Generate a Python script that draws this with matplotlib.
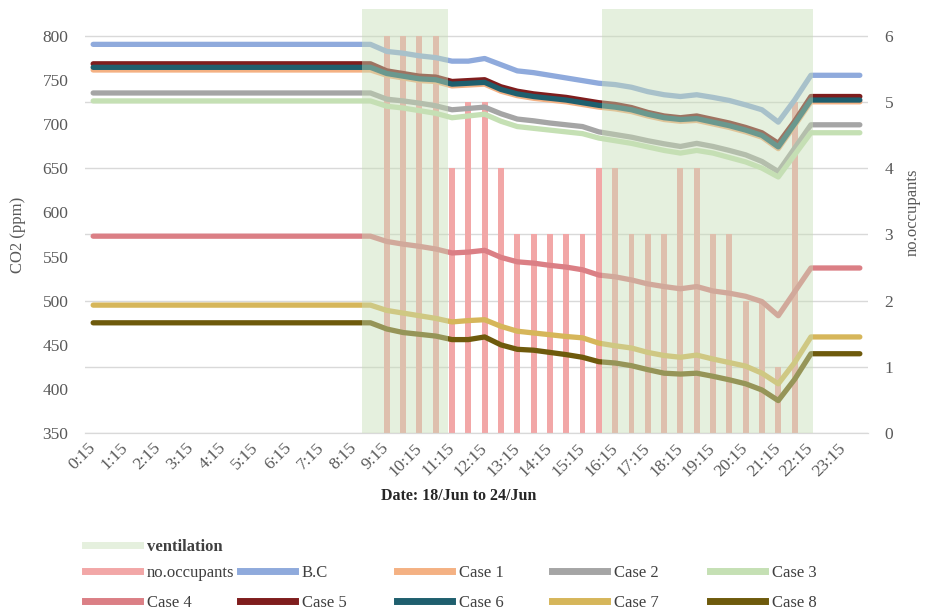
import matplotlib.pyplot as plt
from matplotlib.lines import Line2D
import numpy as np

plt.rcParams['font.family'] = ['Liberation Serif', 'DejaVu Serif']

# half-hour slots 0:15, 0:45, ... 23:45 ; labels every hour
hour_labels = ["0:15", "1:15", "2:15", "3:15", "4:15", "5:15", "6:15", "7:15",
               "8:15", "9:15", "10:15", "11:15", "12:15", "13:15", "14:15", "15:15",
               "16:15", "17:15", "18:15", "19:15", "20:15", "21:15", "22:15", "23:15"]

occupants = [0, 0, 0, 0, 0, 0, 0, 0, 0, 0, 0, 0, 0, 0, 0, 0, 0, 0,
             6, 6, 6, 6, 4, 5, 5, 4, 3, 3, 3, 3, 3, 4, 4, 3, 3, 3, 4, 4, 3, 3, 2, 2, 1, 5,
             0, 0, 0, 0]

bc = [790, 790, 790, 790, 790, 790, 790, 790, 790, 790, 790, 790, 790, 790, 790, 790, 790, 790,
      782, 780, 777, 775, 771, 771, 774, 767, 760, 758, 755, 752, 749, 746, 744.5, 741.5,
      736.5, 733, 731, 733, 730, 726.5, 721.5, 716, 702, 727, 755, 755, 755, 755]
case1 = [761, 761, 761, 761, 761, 761, 761, 761, 761, 761, 761, 761, 761, 761, 761, 761, 761, 761,
         755, 752, 749, 748, 743, 744, 745, 737, 732, 729, 727, 725, 722, 719, 717, 714,
         709, 705, 703, 704, 700, 696, 691, 685, 672, 698, 725, 725, 725, 725]
case2 = [735, 735, 735, 735, 735, 735, 735, 735, 735, 735, 735, 735, 735, 735, 735, 735, 735, 735,
         728, 726, 723.5, 720.5, 716, 717.5, 719, 711.5, 705.5, 703.5, 701, 699, 697, 691, 688, 685,
         681, 677.5, 674.5, 678, 674.5, 670, 665, 657.5, 646, 672.5, 699, 699, 699, 699]
case3 = [726, 726, 726, 726, 726, 726, 726, 726, 726, 726, 726, 726, 726, 726, 726, 726, 726, 726,
         720, 718, 715, 712, 707, 709, 711, 703, 697, 695, 693, 691, 689, 684, 681, 678,
         674, 670, 667, 670, 667, 662, 657, 650, 640, 665, 690, 690, 690, 690]
case4 = [573, 573, 573, 573, 573, 573, 573, 573, 573, 573, 573, 573, 573, 573, 573, 573, 573, 573,
         567, 564, 561.5, 558.5, 554, 555, 557, 549, 544, 542.5, 540, 538, 535, 529, 527, 523.5,
         519, 516, 513.5, 516, 511, 508.5, 505, 499, 483, 510, 537, 537, 537, 537]
case5 = [768, 768, 768, 768, 768, 768, 768, 768, 768, 768, 768, 768, 768, 768, 768, 768, 768, 768,
         760, 757, 754, 753, 748, 749, 750, 742, 737, 734, 732, 730, 727, 724, 722, 718.5,
         713, 709, 707, 709, 705, 701, 696, 690, 678, 703, 731, 731, 731, 731]
case6 = [764, 764, 764, 764, 764, 764, 764, 764, 764, 764, 764, 764, 764, 764, 764, 764, 764, 764,
         757, 754, 751, 750, 745, 746, 747, 739, 734, 731, 729, 727, 724, 721, 719, 716,
         711, 707, 705, 706, 702, 698, 693, 687, 674, 700, 727, 727, 727, 727]
case7 = [495, 495, 495, 495, 495, 495, 495, 495, 495, 495, 495, 495, 495, 495, 495, 495, 495, 495,
         489, 486, 483, 480, 476, 477.5, 478.5, 471, 465.5, 463.5, 461.5, 459.5, 458, 452, 449, 446.5,
         441.5, 438, 436, 438.5, 434, 430, 426, 418, 406, 430, 459, 459, 459, 459]
case8 = [475, 475, 475, 475, 475, 475, 475, 475, 475, 475, 475, 475, 475, 475, 475, 475, 475, 475,
         468, 464, 462, 460, 456, 456, 459, 450, 445, 444, 441.5, 439, 436, 431, 429.5, 426.5,
         422, 418, 417, 418, 414.5, 410.5, 406, 399, 387, 411, 440, 440, 440, 440]

# ventilation periods (hours of the day)
vent_on = [8.5, 15.85]
vent_off = [11.125, 22.3]

series = [("B.C", bc, "#8FAADC"), ("Case 1", case1, "#F4B183"), ("Case 2", case2, "#A5A5A5"),
          ("Case 3", case3, "#C5E0B4"), ("Case 4", case4, "#DB7F85"), ("Case 5", case5, "#7F1D1D"),
          ("Case 6", case6, "#1F5F6E"), ("Case 7", case7, "#D6B65A"), ("Case 8", case8, "#6E5A0C")]
occ_color = "#F2A7A7"
vent_color = "#C7DEB6"
grey = "#595959"

slots = np.arange(len(bc))

fig = plt.figure(figsize=(9.25, 6.12), dpi=100)
ax = fig.add_axes([85/925, 1-433.3/612, 783/925, 424.3/612])
ax2 = ax.twinx()
ax.set_zorder(ax2.get_zorder() + 1)
ax.patch.set_visible(False)

# occupants bars on the right axis
ax2.bar(slots, occupants, width=0.36, color=occ_color, zorder=2)
ax2.set_ylim(0, 6.4)
ax2.set_yticks(range(0, 7))
ax2.grid(axis='y', color='#D9D9D9', lw=1)
ax2.set_axisbelow(True)

for i, (name, vals, col) in enumerate(series):
    ax.plot(slots, vals, color=col, lw=3.8, solid_capstyle='round', zorder=3 + i)

for a, b in zip(vent_on, vent_off):
    ax.axvspan((a - 0.25) / 0.5, (b - 0.25) / 0.5, color=vent_color, alpha=0.45, lw=0, zorder=20)

ax.set_xlim(-0.5, len(bc) - 0.5)
ax.set_ylim(350, 830)
ax.set_yticks(np.arange(350, 801, 50))
ax.set_xticks(slots[::2])
ax.set_xticklabels(hour_labels, rotation=45, ha='right', va='center', rotation_mode='anchor')

for a in (ax, ax2):
    for s in ['top', 'left', 'right']:
        a.spines[s].set_visible(False)
    a.spines['bottom'].set_color('#D9D9D9')
    a.tick_params(length=0, labelcolor=grey, labelsize=12.5)
ax.tick_params(axis='y', pad=12)
ax.tick_params(axis='x', pad=9)
ax2.tick_params(axis='y', pad=12)

ax.set_ylabel("CO2 (ppm)", color=grey, fontsize=12)
ax.yaxis.set_label_coords(-0.075, 0.467)
ax2.set_ylabel("no.occupants", color=grey, fontsize=12)
ax2.yaxis.set_label_coords(1.047, 0.52)

fig.text(459/925, 1 - 496/612, "Date: 18/Jun to 24/Jun", ha='center', va='center',
         fontweight='bold', fontsize=11.5, color='#262626')

# legend, laid out like the Excel one
entries = [("ventilation", vent_color, 0.45, 85, 547)]
entries.append(("no.occupants", occ_color, 1, 85, 573))
cols_x = [240, 397, 552, 710]
for (name, vals, col), k in zip(series[:4], range(4)):
    entries.append((name, col, 1, cols_x[k], 573))
for (name, vals, col), x in zip(series[4:], [85] + cols_x):
    entries.append((name, col, 1, x, 603))

for name, col, al, x, y in entries:
    h = Line2D([], [], color=col, alpha=al, lw=5)
    leg = fig.legend([h], [name], loc='center left', bbox_to_anchor=(x/925, 1 - y/612),
                     frameon=False, borderpad=0, borderaxespad=0, handlelength=3.3,
                     handletextpad=0.4, fontsize=12)
    for t in leg.get_texts():
        t.set_color('#404040')
        if name == "ventilation":
            t.set_fontweight('bold')

fig.savefig("out.png", dpi=100)
